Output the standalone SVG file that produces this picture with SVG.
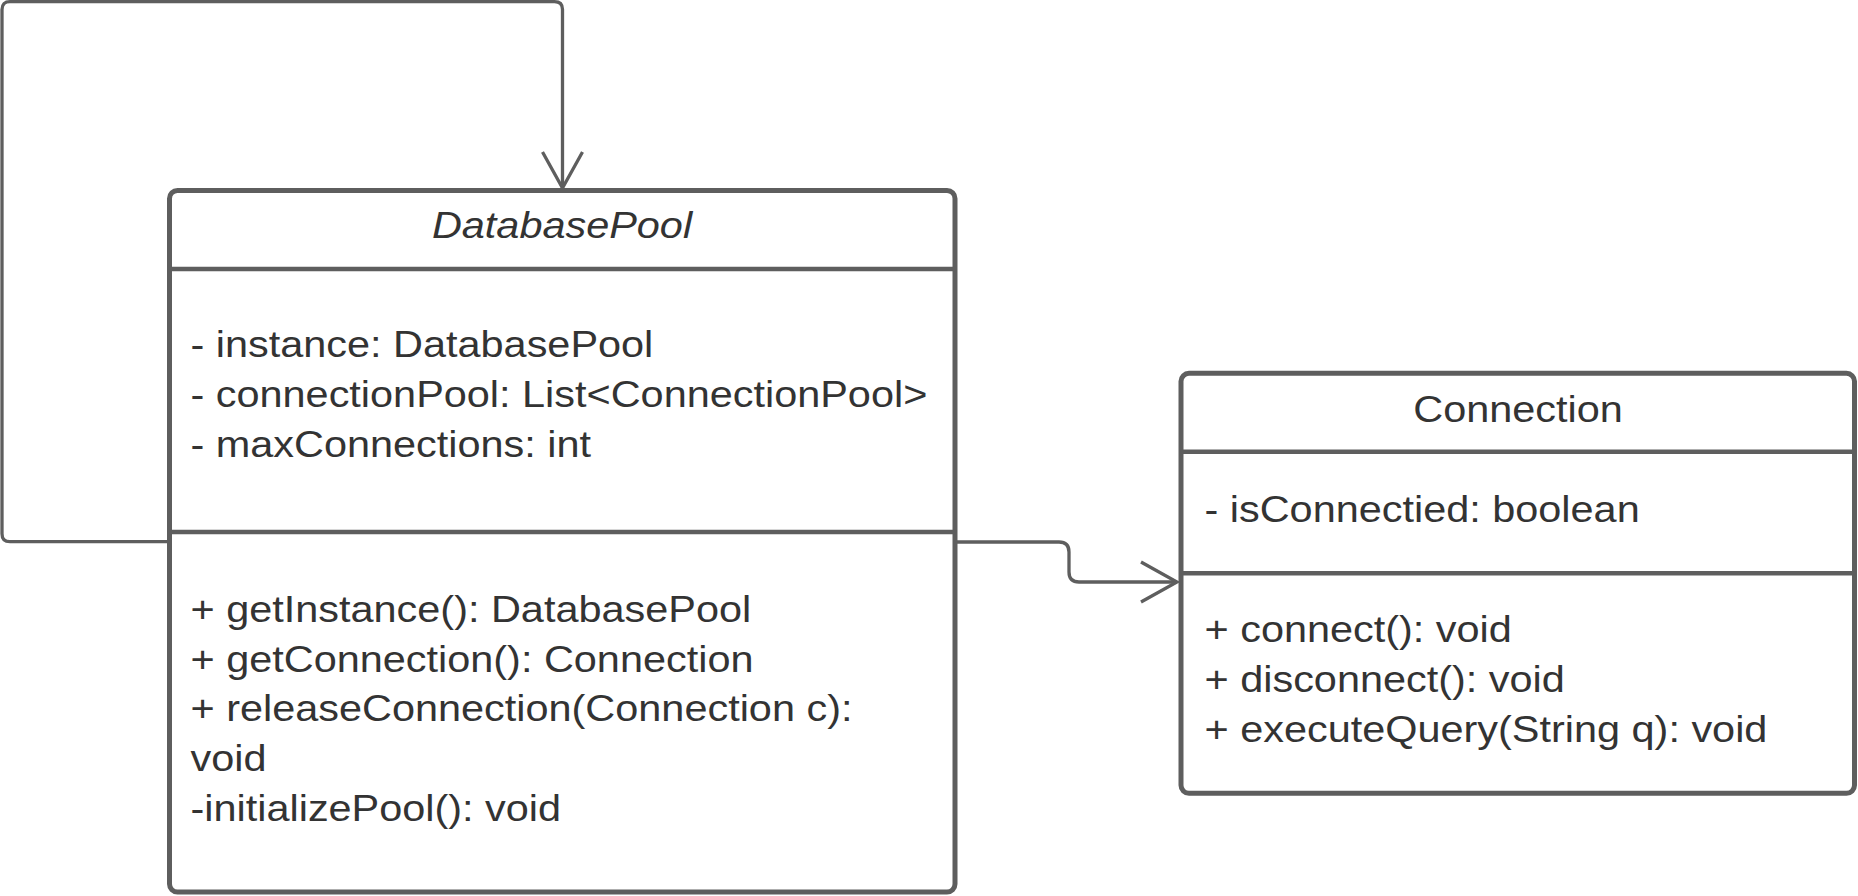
<svg xmlns="http://www.w3.org/2000/svg" width="1858" height="896" viewBox="0 0 1858 896">
<style>
.box{fill:#ffffff;stroke:#5e5e5e;stroke-width:5}
.div{stroke:#5e5e5e;stroke-width:4.5}
.conn{fill:none;stroke:#5e5e5e;stroke-width:3.3;stroke-linejoin:round}
.t{font-family:"Liberation Sans",Arial,sans-serif;font-size:37.5px;fill:#333333}
.ti{font-style:italic}
</style>
<defs>
<marker id="open" viewBox="0 0 40 44" refX="38" refY="22" markerWidth="40" markerHeight="44" markerUnits="userSpaceOnUse" orient="auto">
<polyline points="2,2 38,22 2,42" fill="none" stroke="#5e5e5e" stroke-width="3.3"/>
</marker>
</defs>
<rect width="1858" height="896" fill="#ffffff"/>
<g id="connectors">
<path class="conn" d="M169,541.7 H10 Q2,541.7 2,533.7 V9.5 Q2,1.7 10,1.7 H554.5 Q562.5,1.7 562.5,9.5 V188" marker-end="url(#open)"/>
<path class="conn" d="M955,542 H1059 Q1069,542 1069,552 V572 Q1069,582 1079,582 H1177" marker-end="url(#open)"/>
</g>
<g id="DatabasePool">
<rect class="box" x="169.5" y="190.5" width="785.5" height="701.5" rx="8"/>
<line class="div" x1="169.5" y1="269" x2="955" y2="269"/>
<line class="div" x1="169.5" y1="532" x2="955" y2="532"/>
<g transform="translate(562 0) scale(1.105 1)">
<text class="t ti" x="0" y="238" text-anchor="middle">DatabasePool</text>
</g>
<g transform="translate(190.5 0) scale(1.105 1)">
<text class="t" x="0" y="357.5">- instance: DatabasePool</text>
<text class="t" x="0" y="407.5">- connectionPool: List&lt;ConnectionPool&gt;</text>
<text class="t" x="0" y="457.3">- maxConnections: int</text>
<text class="t" x="0" y="621.7">+ getInstance(): DatabasePool</text>
<text class="t" x="0" y="671.7">+ getConnection(): Connection</text>
<text class="t" x="0" y="721">+ releaseConnection(Connection c):</text>
<text class="t" x="0" y="770.7">void</text>
<text class="t" x="0" y="821">-initializePool(): void</text>
</g>
</g>
<g id="Connection">
<rect class="box" x="1181" y="373.3" width="673.5" height="420" rx="8"/>
<line class="div" x1="1181" y1="451.7" x2="1854.5" y2="451.7"/>
<line class="div" x1="1181" y1="573.3" x2="1854.5" y2="573.3"/>
<g transform="translate(1518 0) scale(1.105 1)">
<text class="t" x="0" y="421.7" text-anchor="middle">Connection</text>
</g>
<g transform="translate(1204.5 0) scale(1.105 1)">
<text class="t" x="0" y="522.3">- isConnectied: boolean</text>
<text class="t" x="0" y="641.7">+ connect(): void</text>
<text class="t" x="0" y="691.7">+ disconnect(): void</text>
<text class="t" x="0" y="741.7">+ executeQuery(String q): void</text>
</g>
</g>
</svg>
